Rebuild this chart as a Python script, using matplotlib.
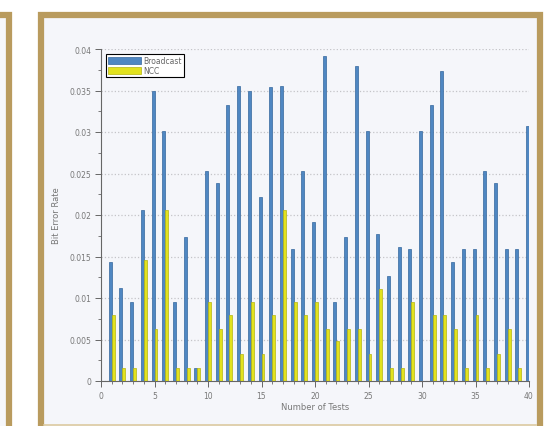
import numpy as np
import matplotlib
import matplotlib.pyplot as plt
from matplotlib.patches import Rectangle
from matplotlib.ticker import MultipleLocator, FuncFormatter
matplotlib.use('Agg')

# ------------ Data ------------ #
tests = np.arange(1, 41)
broadcast = [0.0143, 0.0112, 0.0095, 0.0206, 0.0349, 0.0301, 0.0095, 0.0174, 0.0016, 0.0253,
             0.0238, 0.0333, 0.0355, 0.0349, 0.0222, 0.0354, 0.0355, 0.0159, 0.0253, 0.0191,
             0.0391, 0.0095, 0.0174, 0.0380, 0.0301, 0.0177, 0.0127, 0.0161, 0.0159, 0.0301,
             0.0333, 0.0374, 0.0143, 0.0159, 0.0159, 0.0253, 0.0238, 0.0159, 0.0159, 0.0307]
ncc = [0.0080, 0.0016, 0.0016, 0.0146, 0.0063, 0.0206, 0.0016, 0.0016, 0.0016, 0.0095,
       0.0063, 0.0080, 0.0032, 0.0095, 0.0032, 0.0080, 0.0206, 0.0095, 0.0080, 0.0095,
       0.0063, 0.0048, 0.0063, 0.0063, 0.0032, 0.0111, 0.0016, 0.0016, 0.0095, 0.0,
       0.0080, 0.0080, 0.0063, 0.0016, 0.0080, 0.0016, 0.0032, 0.0063, 0.0016, 0.0]
series_names = ["Broadcast", "NCC"]

W, H = 558, 427
fig = plt.figure(figsize=(W / 100, H / 100), dpi=100)
fig.patch.set_facecolor('white')

gold = '#b99b5e'
# partial neighbouring panel on the left (runs off the bottom of the picture)
fig.patches.append(Rectangle((-40 / W, -0.2), 49 / W, 1.2 - 16 / H, transform=fig.transFigure,
                             facecolor='#f6f7fa', edgecolor=gold, lw=4.5, zorder=-2))
# main panel frame
fig.patches.append(Rectangle((41 / W, -0.2), 499 / W, 1.2 - 16 / H, transform=fig.transFigure,
                             facecolor='#f5f6fa', edgecolor=gold, lw=4.5, zorder=-2))
# faint line along the bottom edge of the main panel
fig.add_artist(plt.Line2D([44 / W, 536 / W], [1 / H, 1 / H], transform=fig.transFigure,
                          color='#dccaa0', lw=1.2, zorder=-1))

ax = fig.add_axes([101 / W, 1 - 382 / H, 428 / W, 332 / H])
ax.set_facecolor('none')

w = 0.28
ax.bar(tests - w / 2, broadcast, width=w, color='#4f87c2', edgecolor='#35679d', lw=0.5,
       label=series_names[0], zorder=2)
ax.bar(tests + w / 2, ncc, width=w, color='#e2e21e', edgecolor='#b5b510', lw=0.5,
       label=series_names[1], zorder=2)

ax.set_xlim(0, 40)
ax.set_ylim(0, 0.04)
ax.xaxis.set_major_locator(MultipleLocator(5))
ax.xaxis.set_minor_locator(MultipleLocator(1))
ax.yaxis.set_major_locator(MultipleLocator(0.005))
ax.yaxis.set_minor_locator(MultipleLocator(0.0025))
ax.yaxis.set_major_formatter(FuncFormatter(lambda v, p: '0' if v == 0 else f"{v:.3f}".rstrip('0')))

ax.grid(axis='y', which='major', color='#c4c4c8', ls=':', lw=0.9, zorder=0)
for s in ['top', 'right']:
    ax.spines[s].set_visible(False)
for s in ['left', 'bottom']:
    ax.spines[s].set_color('#666666')
    ax.spines[s].set_linewidth(0.8)
ax.tick_params(which='major', direction='out', length=4, width=0.7, color='#666666',
               labelsize=5.5, labelcolor='#777777', pad=3)
ax.tick_params(which='minor', direction='out', length=2.5, width=0.6, color='#666666')

ax.set_xlabel("Number of Tests", fontsize=6, color='#777777', labelpad=2)
ax.set_ylabel("Bit Error Rate", fontsize=6, color='#777777', labelpad=6)

leg = ax.legend(loc='upper left', bbox_to_anchor=(0.012, 0.985), fontsize=5.5, fancybox=False,
                edgecolor='black', framealpha=1, handlelength=4.2, handleheight=0.9,
                handletextpad=0.3, borderpad=0.3, labelspacing=0.1, borderaxespad=0)
leg.get_frame().set_linewidth(0.8)
for t in leg.get_texts():
    t.set_color('#666666')

fig.savefig('out.png', dpi=100)
